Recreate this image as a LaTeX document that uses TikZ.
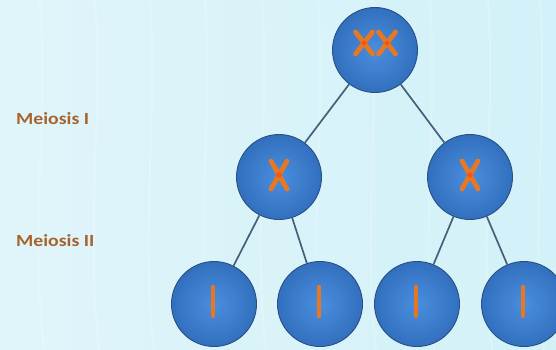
\documentclass[tikz,border=0pt]{standalone}
\usepackage{fontspec}
\setmainfont{Carlito}
\usetikzlibrary{calc}

\definecolor{bgleft}{RGB}{224,245,250}
\definecolor{bgright}{RGB}{210,241,248}
\definecolor{cellin}{RGB}{74,142,222}
\definecolor{cellout}{RGB}{50,112,190}
\definecolor{cellrim}{RGB}{38,80,134}
\definecolor{linkcol}{RGB}{70,96,122}
\definecolor{chromo}{RGB}{230,120,36}
\definecolor{chromocore}{RGB}{246,84,18}
\definecolor{labelcol}{RGB}{166,100,44}

\tikzset{
  cell/.style={circle, minimum size=85pt, inner sep=0pt,
    shading=radial, inner color=cellin, outer color=cellout,
    draw=cellrim, line width=0.9pt},
  link/.style={draw=linkcol, line width=1.7pt},
  arm/.style={draw=chromo, line width=4.8pt, line cap=round},
  core/.style={fill=chromocore},
  phase/.style={anchor=west, text=labelcol, font=\bfseries\fontsize{17}{20}\selectfont, inner sep=0pt}
}

\begin{document}
\begin{tikzpicture}[x=1pt, y=-1pt]
  % page frame and backdrop
  \useasboundingbox (0,0) rectangle (556,350);
  \clip (0,0) rectangle (556,350);
  \shade[left color=bgleft, right color=bgright] (0,0) rectangle (556,350);
  % faint vertical streaks in the backdrop
  \foreach \sx in {40,95,150,205,262,318,372,430,488,540}{
    \draw[white, opacity=0.22, line width=2pt]
      (\sx,0) .. controls (\sx+8,120) and (\sx-10,230) .. (\sx+4,350);
  }

  % stage labels
  \node[phase] (m1) at (16,119) {\scalebox{1.16}[1]{Meiosis I}};
  \node[phase] (m2) at (16,241) {\scalebox{1.16}[1]{Meiosis II}};

  % cells
  \node[cell] (top) at (375,50) {};
  \node[cell] (mleft) at (279,177) {};
  \node[cell] (mright) at (470,177) {};
  \node[cell] (b1) at (214,304) {};
  \node[cell] (b2) at (320,304) {};
  \node[cell] (b3) at (417,304) {};
  \node[cell] (b4) at (524,304) {};

  % division lines
  \path[link] (top) -- (mleft);
  \path[link] (top) -- (mright);
  \path[link] (mleft) -- (b1);
  \path[link] (mleft) -- (b2);
  \path[link] (mright) -- (b3);
  \path[link] (mright) -- (b4);

  % paired chromosomes in the parent cell
  \foreach \dx in {-11,12}{
    \draw[arm] ($(top)+(\dx-8.5,-18)$) -- ($(top)+(\dx+8.5,4)$);
    \draw[arm] ($(top)+(\dx+8.5,-18)$) -- ($(top)+(\dx-8.5,4)$);
    \fill[core] ($(top)+(\dx,-7)$) circle (2.4pt);
  }

  % single chromosomes after meiosis I
  \foreach \c in {mleft,mright}{
    \draw[arm] ($(\c)+(-8,-16)$) -- ($(\c)+(8,12)$);
    \draw[arm] ($(\c)+(8,-16)$) -- ($(\c)+(-8,12)$);
    \fill[core] ($(\c)+(0,-2)$) circle (2.8pt);
  }

  % chromatids after meiosis II
  \foreach \c in {b1,b2,b3,b4}{
    \draw[arm, line width=4.4pt] ($(\c)+(-1,-17)$) -- ($(\c)+(-1,12)$);
  }
\end{tikzpicture}
\end{document}
